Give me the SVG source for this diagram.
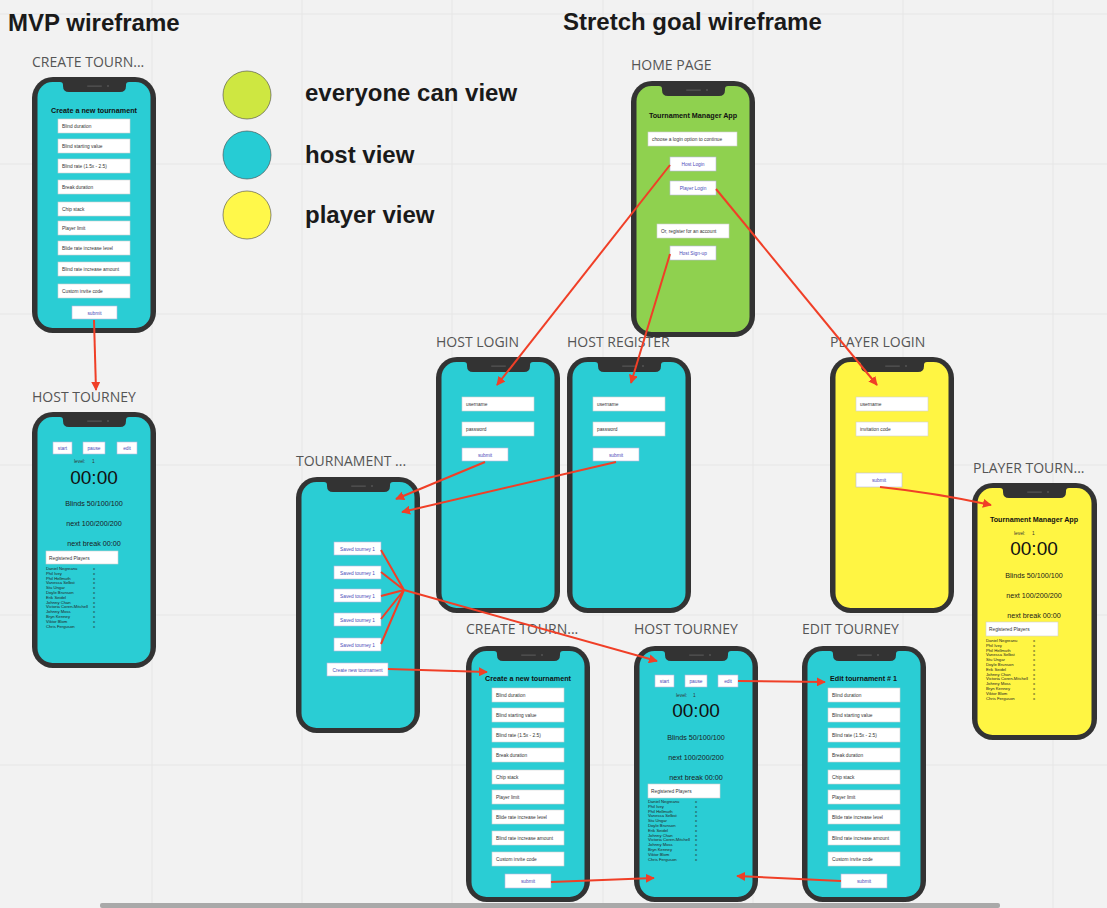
<svg xmlns="http://www.w3.org/2000/svg" xmlns:xlink="http://www.w3.org/1999/xlink" width="1107" height="908" viewBox="0 0 1107 908">
<style>
.grid{stroke:#e6e6e6;stroke-width:1}
.h1{font-family:"Liberation Sans",Arial,sans-serif;font-weight:bold;font-size:24px;fill:#1a1a1a}
.leg{font-family:"Liberation Sans",Arial,sans-serif;font-weight:bold;font-size:24px;fill:#1a1a1a}
.lbl{font-family:"Open Sans","Liberation Sans",sans-serif;font-size:14px;fill:#555}
.frame{fill:#333}
.host{fill:#2acdd4}
.green{fill:#8fd14f}
.yellow{fill:#fff543}
.fld{fill:#fff;stroke:#cfcfcf;stroke-width:0.6}
.btn{fill:#fff;stroke:#b9b9dc;stroke-width:0.6}
.ft{font-family:"Liberation Sans",Arial,sans-serif;font-size:4.8px;fill:#333}
.bt{font-family:"Liberation Sans",Arial,sans-serif;font-size:4.8px;fill:#4a4ab8;text-anchor:middle}
.pt{font-family:"Liberation Sans",Arial,sans-serif;font-size:7.2px;font-weight:bold;fill:#111;text-anchor:middle}
.big{font-family:"Liberation Sans",Arial,sans-serif;font-size:19px;fill:#111;text-anchor:middle}
.mid{font-family:"Liberation Sans",Arial,sans-serif;font-size:7.2px;fill:#1a1a1a;text-anchor:middle}
.nm{font-family:"Liberation Sans",Arial,sans-serif;font-size:4.2px;fill:#222}
.conn{stroke:#f03f27;stroke-width:2;fill:none}
.arr{marker-end:url(#ah)}
</style>
<defs>
<marker id="ah" viewBox="0 0 10 10" refX="9" refY="5" markerWidth="4.5" markerHeight="4.5" orient="auto"><path d="M0,0 L10,5 L0,10 z" fill="#f03f27"/></marker>
<g id="notch"><path d="M28,5 Q31,5 31,8 L31,9 Q31,15 37,15 L88,15 Q94,15 94,9 L94,8 Q94,5 97,5 Z" fill="#333"/><rect x="55" y="8.4" width="15" height="1.4" rx="0.7" fill="#555"/><circle cx="76" cy="9.1" r="1" fill="#555"/></g>
</defs>
<rect width="1107" height="908" fill="#f2f2f2"/>
<g id="grid">
<line class="grid" x1="152" y1="0" x2="152" y2="908"/><line class="grid" x1="302" y1="0" x2="302" y2="908"/><line class="grid" x1="452" y1="0" x2="452" y2="908"/><line class="grid" x1="603" y1="0" x2="603" y2="908"/><line class="grid" x1="753" y1="0" x2="753" y2="908"/><line class="grid" x1="903" y1="0" x2="903" y2="908"/><line class="grid" x1="1053" y1="0" x2="1053" y2="908"/>
<line class="grid" x1="0" y1="14" x2="1107" y2="14"/><line class="grid" x1="0" y1="164" x2="1107" y2="164"/><line class="grid" x1="0" y1="314" x2="1107" y2="314"/><line class="grid" x1="0" y1="465" x2="1107" y2="465"/><line class="grid" x1="0" y1="615" x2="1107" y2="615"/><line class="grid" x1="0" y1="765" x2="1107" y2="765"/>
</g>
<text class="h1" x="8" y="31">MVP wireframe</text>
<text class="h1" x="563" y="30">Stretch goal wireframe</text>
<g id="legend">
<circle cx="247" cy="95" r="24" fill="#cee741" stroke="#444" stroke-width="0.6"/>
<circle cx="247" cy="155" r="24" fill="#26ccd4" stroke="#444" stroke-width="0.6"/>
<circle cx="247" cy="215" r="24" fill="#fff84a" stroke="#444" stroke-width="0.6"/>
<text class="leg" x="305" y="101">everyone can view</text>
<text class="leg" x="305" y="163">host view</text>
<text class="leg" x="305" y="223">player view</text>
</g>
<g id="labels">
<text class="lbl" x="32" y="67">CREATE TOURN...</text>
<text class="lbl" x="32" y="402">HOST TOURNEY</text>
<text class="lbl" x="631" y="70">HOME PAGE</text>
<text class="lbl" x="436" y="347">HOST LOGIN</text>
<text class="lbl" x="567" y="347">HOST REGISTER</text>
<text class="lbl" x="830" y="347">PLAYER LOGIN</text>
<text class="lbl" x="973" y="473">PLAYER TOURN...</text>
<text class="lbl" x="296" y="466">TOURNAMENT ...</text>
<text class="lbl" x="466" y="634">CREATE TOURN...</text>
<text class="lbl" x="634" y="634">HOST TOURNEY</text>
<text class="lbl" x="802" y="634">EDIT TOURNEY</text>
</g>

<g id="mvp-create" transform="translate(32,77)">
<rect class="frame" width="124" height="256" rx="21"/><rect class="host" x="5.5" y="5" width="113" height="246" rx="15"/><use href="#notch"/>
<text class="pt" x="62" y="36">Create a new tournament</text>
<rect class="fld" x="26" y="42" width="72" height="14"/><text class="ft" x="30" y="51">Blind duration</text>
<rect class="fld" x="26" y="62" width="72" height="14"/><text class="ft" x="30" y="71">Blind starting value</text>
<rect class="fld" x="26" y="82" width="72" height="14"/><text class="ft" x="30" y="91">Blind rate (1.5x - 2.5)</text>
<rect class="fld" x="26" y="103" width="72" height="14"/><text class="ft" x="30" y="112">Break duration</text>
<rect class="fld" x="26" y="125" width="72" height="14"/><text class="ft" x="30" y="134">Chip stack</text>
<rect class="fld" x="26" y="144" width="72" height="14"/><text class="ft" x="30" y="153">Player limit</text>
<rect class="fld" x="26" y="164" width="72" height="14"/><text class="ft" x="30" y="173">Blide rate increase level</text>
<rect class="fld" x="26" y="185" width="72" height="14"/><text class="ft" x="30" y="194">Blind rate increase amount</text>
<rect class="fld" x="26" y="207" width="72" height="14"/><text class="ft" x="30" y="216">Custom invite code</text>
<rect class="btn" x="40" y="229" width="45" height="13"/><text class="bt" x="62.5" y="237.5">submit</text>
</g>

<g id="mvp-host" transform="translate(32,412)">
<rect class="frame" width="124" height="256" rx="21"/><rect class="host" x="5.5" y="5" width="113" height="246" rx="15"/><use href="#notch"/>
<rect class="btn" x="21" y="30" width="19" height="12"/><text class="bt" x="30.5" y="37.5">start</text>
<rect class="btn" x="51" y="30" width="22" height="12"/><text class="bt" x="62" y="37.5">pause</text>
<rect class="btn" x="85" y="30" width="20" height="12"/><text class="bt" x="95" y="37.5">edit</text>
<text class="ft" x="42" y="51">level:</text><text class="ft" x="60" y="51">1</text>
<text class="big" x="62" y="72">00:00</text>
<text class="mid" x="62" y="94">Blinds 50/100/100</text>
<text class="mid" x="62" y="114">next 100/200/200</text>
<text class="mid" x="62" y="134">next break 00:00</text>
<rect class="fld" x="14" y="139" width="72" height="13"/><text class="ft" x="17" y="147.5">Registered Players</text>
<text class="nm" x="14" y="158">Daniel Negreanu</text><text class="nm" x="14" y="162.8">Phil Ivey</text><text class="nm" x="14" y="167.6">Phil Hellmuth</text><text class="nm" x="14" y="172.4">Vanessa Selbst</text><text class="nm" x="14" y="177.2">Stu Ungar</text><text class="nm" x="14" y="182">Doyle Brunson</text><text class="nm" x="14" y="186.8">Erik Seidel</text><text class="nm" x="14" y="191.6">Johnny Chan</text><text class="nm" x="14" y="196.4">Victoria Coren-Mitchell</text><text class="nm" x="14" y="201.2">Johnny Moss</text><text class="nm" x="14" y="206">Bryn Kenney</text><text class="nm" x="14" y="210.8">Viktor Blom</text><text class="nm" x="14" y="215.6">Chris Ferguson</text>
<text class="nm" x="61" y="158">x</text><text class="nm" x="61" y="162.8">x</text><text class="nm" x="61" y="167.6">x</text><text class="nm" x="61" y="172.4">x</text><text class="nm" x="61" y="177.2">x</text><text class="nm" x="61" y="182">x</text><text class="nm" x="61" y="186.8">x</text><text class="nm" x="61" y="191.6">x</text><text class="nm" x="61" y="196.4">x</text><text class="nm" x="61" y="201.2">x</text><text class="nm" x="61" y="206">x</text><text class="nm" x="61" y="210.8">x</text><text class="nm" x="61" y="215.6">x</text>
</g>

<g id="home-page" transform="translate(631,81)">
<rect class="frame" width="124" height="256" rx="21"/><rect class="green" x="5.5" y="5" width="113" height="246" rx="15"/><use href="#notch"/>
<text class="pt" x="62" y="37">Tournament Manager App</text>
<rect class="fld" x="17" y="51" width="89" height="14"/><text class="ft" x="21" y="60">choose a login option to continue</text>
<rect class="btn" x="39" y="76" width="46" height="14"/><text class="bt" x="62" y="84.8">Host Login</text>
<rect class="btn" x="39" y="100" width="46" height="14"/><text class="bt" x="62" y="108.8">Player Login</text>
<rect class="fld" x="26" y="143" width="72" height="14"/><text class="ft" x="30" y="152">Or, register for an account</text>
<rect class="btn" x="39" y="165" width="46" height="14"/><text class="bt" x="62" y="173.8">Host Sign-up</text>
</g>

<g id="host-login" transform="translate(436,357)">
<rect class="frame" width="124" height="256" rx="21"/><rect class="host" x="5.5" y="5" width="113" height="246" rx="15"/><use href="#notch"/>
<rect class="fld" x="26" y="40" width="72" height="14"/><text class="ft" x="30" y="49">username</text>
<rect class="fld" x="26" y="65" width="72" height="14"/><text class="ft" x="30" y="74">password</text>
<rect class="btn" x="26" y="91" width="46" height="13"/><text class="bt" x="49" y="99.5">submit</text>
</g>

<g id="host-register" transform="translate(567,357)">
<rect class="frame" width="124" height="256" rx="21"/><rect class="host" x="5.5" y="5" width="113" height="246" rx="15"/><use href="#notch"/>
<rect class="fld" x="26" y="40" width="72" height="14"/><text class="ft" x="30" y="49">username</text>
<rect class="fld" x="26" y="65" width="72" height="14"/><text class="ft" x="30" y="74">password</text>
<rect class="btn" x="26" y="91" width="46" height="13"/><text class="bt" x="49" y="99.5">submit</text>
</g>

<g id="player-login" transform="translate(830,357)">
<rect class="frame" width="124" height="256" rx="21"/><rect class="yellow" x="5.5" y="5" width="113" height="246" rx="15"/><use href="#notch"/>
<rect class="fld" x="26" y="40" width="72" height="14"/><text class="ft" x="30" y="49">username</text>
<rect class="fld" x="26" y="65" width="72" height="14"/><text class="ft" x="30" y="74">invitation code</text>
<rect class="btn" x="26" y="116" width="46" height="14"/><text class="bt" x="49" y="124.8">submit</text>
</g>

<g id="player-tourney" transform="translate(972,483)">
<rect class="frame" width="125" height="257" rx="21"/><rect class="yellow" x="5.5" y="5" width="114" height="247" rx="15"/><use href="#notch"/>
<text class="pt" x="62" y="39">Tournament Manager App</text>
<text class="ft" x="42" y="52">level:</text><text class="ft" x="60" y="52">1</text>
<text class="big" x="62" y="72">00:00</text>
<text class="mid" x="62" y="95">Blinds 50/100/100</text>
<text class="mid" x="62" y="115">next 100/200/200</text>
<text class="mid" x="62" y="135">next break 00:00</text>
<rect class="fld" x="14" y="139" width="72" height="14"/><text class="ft" x="17" y="148">Registered Players</text>
<text class="nm" x="14" y="159">Daniel Negreanu</text><text class="nm" x="14" y="163.8">Phil Ivey</text><text class="nm" x="14" y="168.6">Phil Hellmuth</text><text class="nm" x="14" y="173.4">Vanessa Selbst</text><text class="nm" x="14" y="178.2">Stu Ungar</text><text class="nm" x="14" y="183">Doyle Brunson</text><text class="nm" x="14" y="187.8">Erik Seidel</text><text class="nm" x="14" y="192.6">Johnny Chan</text><text class="nm" x="14" y="197.4">Victoria Coren-Mitchell</text><text class="nm" x="14" y="202.2">Johnny Moss</text><text class="nm" x="14" y="207">Bryn Kenney</text><text class="nm" x="14" y="211.8">Viktor Blom</text><text class="nm" x="14" y="216.6">Chris Ferguson</text>
<text class="nm" x="61" y="159">x</text><text class="nm" x="61" y="163.8">x</text><text class="nm" x="61" y="168.6">x</text><text class="nm" x="61" y="173.4">x</text><text class="nm" x="61" y="178.2">x</text><text class="nm" x="61" y="183">x</text><text class="nm" x="61" y="187.8">x</text><text class="nm" x="61" y="192.6">x</text><text class="nm" x="61" y="197.4">x</text><text class="nm" x="61" y="202.2">x</text><text class="nm" x="61" y="207">x</text><text class="nm" x="61" y="211.8">x</text><text class="nm" x="61" y="216.6">x</text>
</g>

<g id="tournaments" transform="translate(296,477)">
<rect class="frame" width="124" height="256" rx="21"/><rect class="host" x="5.5" y="5" width="113" height="246" rx="15"/><use href="#notch"/>
<rect class="btn" x="38" y="65" width="47" height="13"/><text class="bt" x="61.5" y="73.5">Saved tourney 1</text>
<rect class="btn" x="38" y="89" width="47" height="13"/><text class="bt" x="61.5" y="97.5">Saved tourney 1</text>
<rect class="btn" x="38" y="112" width="47" height="13"/><text class="bt" x="61.5" y="120.5">Saved tourney 1</text>
<rect class="btn" x="38" y="136" width="47" height="13"/><text class="bt" x="61.5" y="144.5">Saved tourney 1</text>
<rect class="btn" x="38" y="161" width="47" height="13"/><text class="bt" x="61.5" y="169.5">Saved tourney 1</text>
<rect class="btn" x="31" y="186" width="61" height="13"/><text class="bt" x="61.5" y="194.5">Create new tournament</text>
</g>

<g id="create-tourney" transform="translate(466,646)">
<rect class="frame" width="124" height="256" rx="21"/><rect class="host" x="5.5" y="5" width="113" height="246" rx="15"/><use href="#notch"/>
<text class="pt" x="62" y="35">Create a new tournament</text>
<rect class="fld" x="26" y="42" width="72" height="14"/><text class="ft" x="30" y="51">Blind duration</text>
<rect class="fld" x="26" y="62" width="72" height="14"/><text class="ft" x="30" y="71">Blind starting value</text>
<rect class="fld" x="26" y="82" width="72" height="14"/><text class="ft" x="30" y="91">Blind rate (1.5x - 2.5)</text>
<rect class="fld" x="26" y="102" width="72" height="14"/><text class="ft" x="30" y="111">Break duration</text>
<rect class="fld" x="26" y="124" width="72" height="14"/><text class="ft" x="30" y="133">Chip stack</text>
<rect class="fld" x="26" y="144" width="72" height="14"/><text class="ft" x="30" y="153">Player limit</text>
<rect class="fld" x="26" y="164" width="72" height="14"/><text class="ft" x="30" y="173">Blide rate increase level</text>
<rect class="fld" x="26" y="185" width="72" height="14"/><text class="ft" x="30" y="194">Blind rate increase amount</text>
<rect class="fld" x="26" y="206" width="72" height="14"/><text class="ft" x="30" y="215">Custom invite code</text>
<rect class="btn" x="39" y="228" width="46" height="14"/><text class="bt" x="62" y="236.8">submit</text>
</g>

<g id="host-tourney" transform="translate(634,646)">
<rect class="frame" width="124" height="256" rx="21"/><rect class="host" x="5.5" y="5" width="113" height="246" rx="15"/><use href="#notch"/>
<rect class="btn" x="21" y="29" width="19" height="12"/><text class="bt" x="30.5" y="36.5">start</text>
<rect class="btn" x="51" y="29" width="22" height="12"/><text class="bt" x="62" y="36.5">pause</text>
<rect class="btn" x="84" y="29" width="20" height="12"/><text class="bt" x="94" y="36.5">edit</text>
<text class="ft" x="42" y="51">level:</text><text class="ft" x="59" y="51">1</text>
<text class="big" x="62" y="71">00:00</text>
<text class="mid" x="62" y="94">Blinds 50/100/100</text>
<text class="mid" x="62" y="114">next 100/200/200</text>
<text class="mid" x="62" y="134">next break 00:00</text>
<rect class="fld" x="14" y="138" width="72" height="14"/><text class="ft" x="17" y="147">Registered Players</text>
<text class="nm" x="14" y="157">Daniel Negreanu</text><text class="nm" x="14" y="161.8">Phil Ivey</text><text class="nm" x="14" y="166.6">Phil Hellmuth</text><text class="nm" x="14" y="171.4">Vanessa Selbst</text><text class="nm" x="14" y="176.2">Stu Ungar</text><text class="nm" x="14" y="181">Doyle Brunson</text><text class="nm" x="14" y="185.8">Erik Seidel</text><text class="nm" x="14" y="190.6">Johnny Chan</text><text class="nm" x="14" y="195.4">Victoria Coren-Mitchell</text><text class="nm" x="14" y="200.2">Johnny Moss</text><text class="nm" x="14" y="205">Bryn Kenney</text><text class="nm" x="14" y="209.8">Viktor Blom</text><text class="nm" x="14" y="214.6">Chris Ferguson</text>
<text class="nm" x="61" y="157">x</text><text class="nm" x="61" y="161.8">x</text><text class="nm" x="61" y="166.6">x</text><text class="nm" x="61" y="171.4">x</text><text class="nm" x="61" y="176.2">x</text><text class="nm" x="61" y="181">x</text><text class="nm" x="61" y="185.8">x</text><text class="nm" x="61" y="190.6">x</text><text class="nm" x="61" y="195.4">x</text><text class="nm" x="61" y="200.2">x</text><text class="nm" x="61" y="205">x</text><text class="nm" x="61" y="209.8">x</text><text class="nm" x="61" y="214.6">x</text>
</g>

<g id="edit-tourney" transform="translate(802,646)">
<rect class="frame" width="124" height="256" rx="21"/><rect class="host" x="5.5" y="5" width="113" height="246" rx="15"/><use href="#notch"/>
<text class="pt" x="61.5" y="35">Edit tournament # 1</text>
<rect class="fld" x="26" y="42" width="72" height="14"/><text class="ft" x="30" y="51">Blind duration</text>
<rect class="fld" x="26" y="62" width="72" height="14"/><text class="ft" x="30" y="71">Blind starting value</text>
<rect class="fld" x="26" y="82" width="72" height="14"/><text class="ft" x="30" y="91">Blind rate (1.5x - 2.5)</text>
<rect class="fld" x="26" y="102" width="72" height="14"/><text class="ft" x="30" y="111">Break duration</text>
<rect class="fld" x="26" y="124" width="72" height="14"/><text class="ft" x="30" y="133">Chip stack</text>
<rect class="fld" x="26" y="144" width="72" height="14"/><text class="ft" x="30" y="153">Player limit</text>
<rect class="fld" x="26" y="164" width="72" height="14"/><text class="ft" x="30" y="173">Blide rate increase level</text>
<rect class="fld" x="26" y="185" width="72" height="14"/><text class="ft" x="30" y="194">Blind rate increase amount</text>
<rect class="fld" x="26" y="206" width="72" height="14"/><text class="ft" x="30" y="215">Custom invite code</text>
<rect class="btn" x="39" y="228" width="46" height="14"/><text class="bt" x="62" y="236.8">submit</text>
</g>

<g id="connectors">
<path class="conn arr" d="M94,320 L96,390"/>
<path class="conn arr" d="M670,165 L497,385"/>
<path class="conn arr" d="M670,254 L631,383"/>
<path class="conn arr" d="M716,189 L877,385"/>
<path class="conn arr" d="M485,462 L396,499"/>
<path class="conn arr" d="M616,462 L402,512"/>
<path class="conn arr" d="M880,487 Q936,493 991,505"/>
<path class="conn" d="M381,550 L404,590 M381,572 L404,590 M381,596 L404,590 M381,619 L404,590 M381,644 L404,590"/>
<path class="conn arr" d="M404,590 L657,661"/>
<path class="conn arr" d="M388,669 L487,672"/>
<path class="conn arr" d="M738,681 L825,682"/>
<path class="conn arr" d="M551,882 L654,878"/>
<path class="conn arr" d="M841,881 L737,876"/>
</g>
<rect x="100" y="903" width="900" height="5" rx="2" fill="#a9a9a9"/>
</svg>
